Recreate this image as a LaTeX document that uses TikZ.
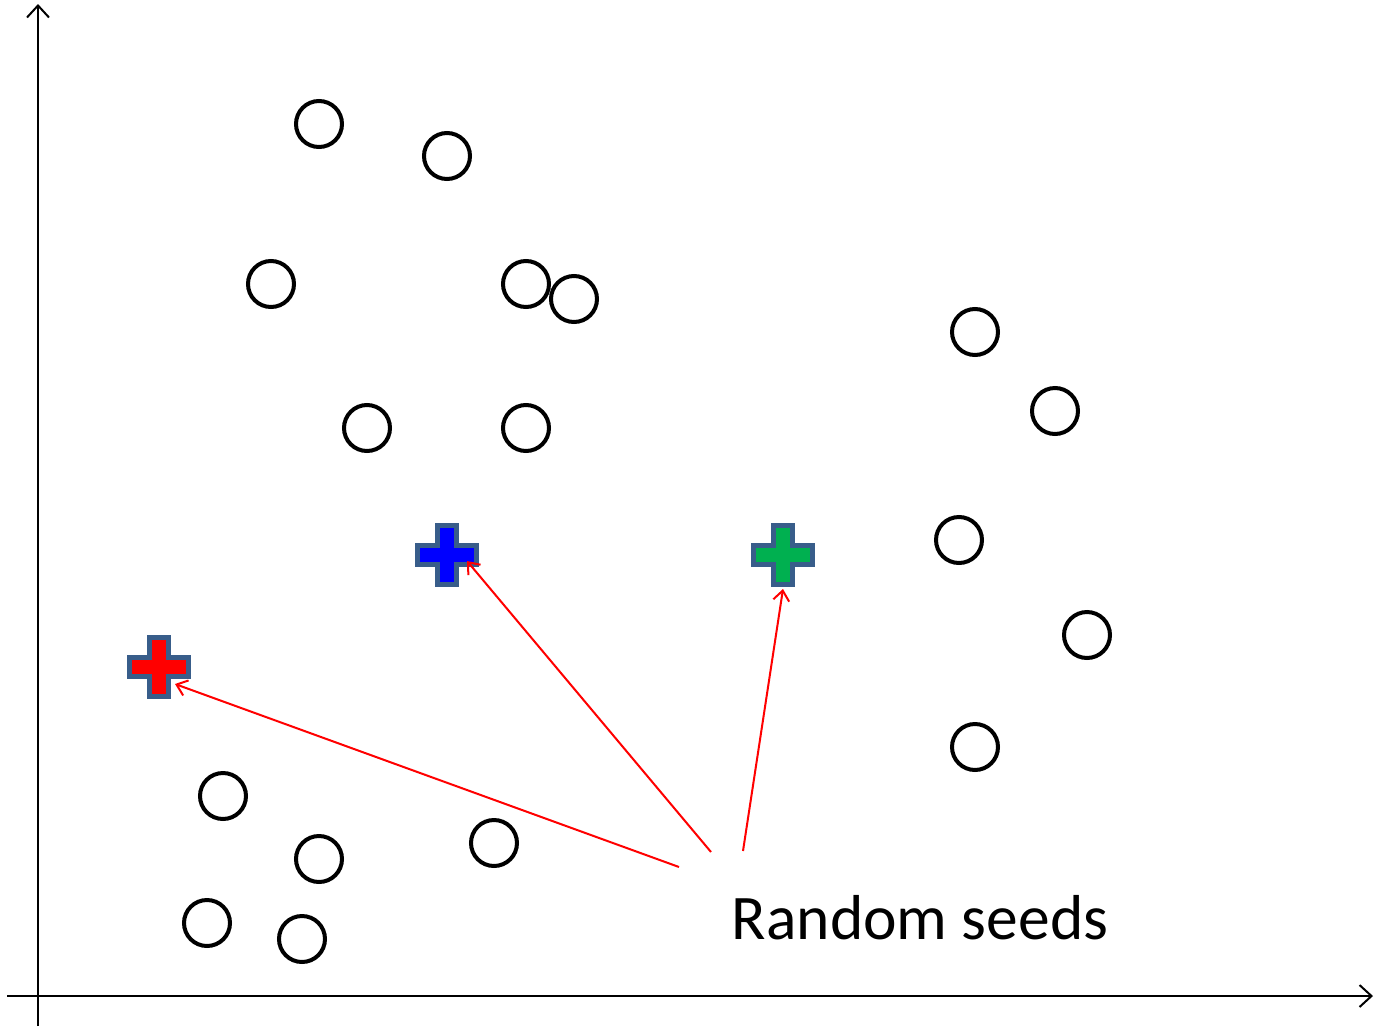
\documentclass[tikz,border=0pt]{standalone}
\usepackage{fontspec}
\setmainfont{Carlito}
\usetikzlibrary{arrows.meta,calc}
\definecolor{crossedge}{RGB}{56,93,138}
\definecolor{seedgreen}{RGB}{0,176,80}
\tikzset{
  pt/.style={circle,draw=black,line width=4pt,minimum size=46pt,inner sep=0pt},
  axis/.style={line width=2pt,-{Straight Barb[length=12pt,width=22pt,line width=2pt]}},
  seedarrow/.style={red,line width=2pt,-{Straight Barb[length=10pt,width=16pt,line width=2pt]}},
  seedcross/.style={draw=crossedge,line width=5pt,line join=miter}
}
\newcommand{\seedplus}[2]{% center, fill colour
  \path[seedcross,fill=#2] ($(#1)+(-9.5,-29.5)$) -- ++(19,0) -- ++(0,20) -- ++(20,0) -- ++(0,19) -- ++(-20,0) -- ++(0,20) -- ++(-19,0) -- ++(0,-20) -- ++(-20,0) -- ++(0,-19) -- ++(20,0) -- cycle;}
\begin{document}
\begin{tikzpicture}[x=1pt,y=-1pt]
\useasboundingbox (0,0) rectangle (1374,1026);
% axes
\coordinate (ybot) at (38,1026);
\coordinate (ytop) at (38,4);
\coordinate (xleft) at (7,996);
\coordinate (xright) at (1373,996);
\draw[axis] (ybot) -- (ytop);
\draw[axis] (xleft) -- (xright);
% data points
\foreach \n/\x/\y in {c1/319/124, c2/447/156, c3/271/284, c4/526/284, c5/574/299,
  c6/367/428, c7/526/428, c8/975/332, c9/1055/411, c10/959/540, c11/1087/635,
  c12/975/747, c13/223/796, c14/319/859, c15/494/843, c16/207/923, c17/302/939}
  \node[pt] (\n) at (\x,\y) {};
% seeds
\coordinate (blue) at (447,555);
\coordinate (red) at (159,667);
\coordinate (green) at (783,555);
\seedplus{blue}{blue}
\seedplus{red}{red}
\seedplus{green}{seedgreen}
% label
\node[font=\fontsize{63.5}{66}\selectfont,inner sep=0pt] (lbl) at (920,918) {Random seeds};
\coordinate (s1) at (679,867);
\coordinate (s2) at (711,852);
\coordinate (s3) at (743,851);
\coordinate (t1) at (175,684);
\coordinate (t2) at (467,561);
\coordinate (t3) at (783,589);
\draw[seedarrow] (s1) -- (t1);
\draw[seedarrow] (s2) -- (t2);
\draw[seedarrow] (s3) -- (t3);
\end{tikzpicture}
\end{document}
